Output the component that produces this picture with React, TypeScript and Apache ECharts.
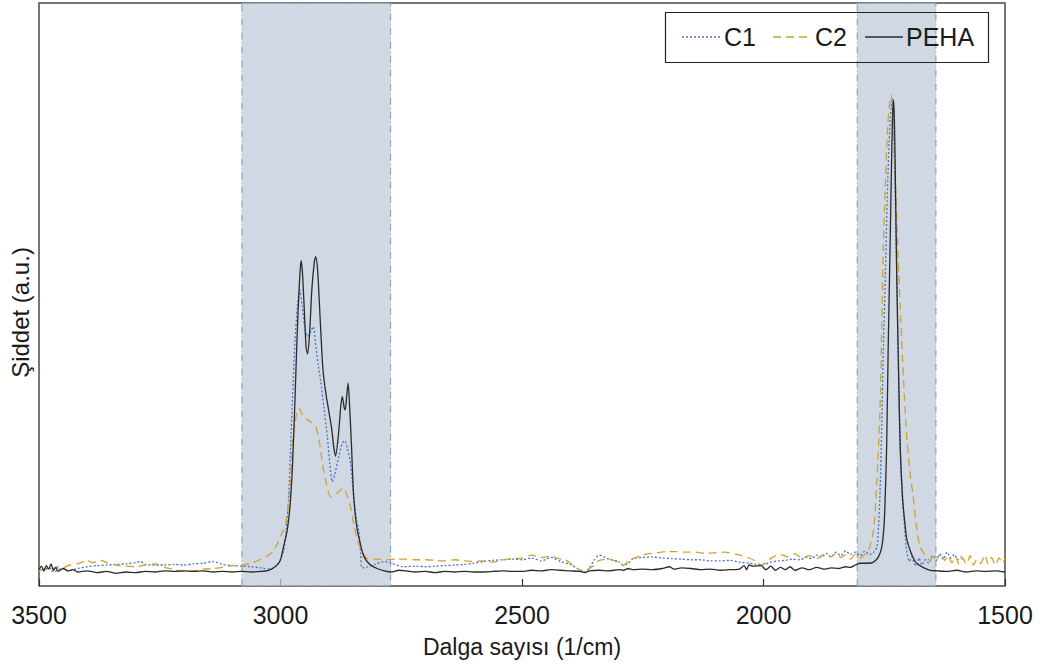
import React, { useEffect, useRef } from "react";
import * as echarts from "echarts";

const seriesNames = ["C1", "C2", "PEHA"];
const seriesColors = ["#4a73c2", "#d0a230", "#2b2b2b"];
const seriesDashes: (number[] | null)[] = [[2, 2], [8, 5], null];
const xTicks = [3500, 3000, 2500, 2000, 1500];
const shadedBands: [number, number][] = [
  [3080, 2772],
  [1806, 1643],
];

// [wavenumber (1/cm), intensity (a.u.)]
const pehaData: [number, number][] = [
  [3500, 2.8], [3495, 3.4], [3490, 2.6], [3485, 3.5], [3480, 2.9], [3475, 3.8], [3470, 2.7], [3465, 3.2], [3460, 2.5],
  [3450, 3.0], [3440, 2.6], [3430, 2.8], [3420, 2.4], [3400, 2.6], [3380, 2.3], [3360, 2.5], [3340, 2.2], [3320, 2.4],
  [3300, 2.3], [3280, 2.5], [3260, 2.4], [3240, 2.6], [3220, 2.5], [3200, 2.6], [3180, 2.5], [3160, 2.6], [3140, 2.4],
  [3120, 2.5], [3100, 2.4], [3080, 2.5], [3060, 2.4], [3040, 2.5], [3025, 2.7], [3015, 3.1], [3005, 3.8], [3000, 4.5],
  [2993, 7.0], [2986, 9.6], [2980, 14], [2975, 21], [2970, 32], [2966, 42], [2962, 50], [2959, 54.5], [2957, 55.8],
  [2954, 53], [2950, 46], [2947, 41], [2944, 39.8], [2940, 43], [2935, 51], [2930, 55.5], [2927, 56.5], [2923, 54],
  [2918, 46], [2912, 37], [2906, 33], [2900, 30], [2894, 27], [2890, 24], [2886, 22.3], [2880, 26], [2875, 31],
  [2872, 32.5], [2868, 30.5], [2866, 30.2], [2863, 32.5], [2860, 34.8], [2857, 31], [2853, 24], [2849, 16], [2845, 12],
  [2841, 9.6], [2834, 7], [2827, 5], [2815, 3.7], [2800, 3.0], [2785, 2.6], [2770, 2.4], [2755, 2.7], [2740, 2.6],
  [2720, 2.4], [2700, 2.5], [2680, 2.3], [2660, 2.5], [2640, 2.4], [2620, 2.5], [2600, 2.4], [2580, 2.4], [2560, 2.5],
  [2540, 2.6], [2520, 2.5], [2500, 2.5], [2480, 2.7], [2460, 2.6], [2440, 2.8], [2420, 2.7], [2400, 2.6], [2380, 2.5],
  [2370, 2.3], [2360, 2.6], [2340, 2.7], [2320, 2.6], [2300, 2.8], [2290, 2.7], [2280, 3.0], [2270, 2.8], [2250, 2.9],
  [2230, 2.8], [2210, 3.0], [2195, 3.3], [2185, 2.9], [2170, 3.1], [2150, 3.0], [2130, 2.8], [2110, 2.9], [2090, 2.7],
  [2070, 2.8], [2050, 2.9], [2040, 3.5], [2035, 2.8], [2030, 3.6], [2020, 3.4], [2005, 3.5], [1995, 2.8], [1985, 3.4],
  [1975, 2.7], [1965, 3.2], [1955, 2.8], [1945, 3.3], [1935, 2.7], [1920, 3.1], [1905, 2.8], [1890, 3.2], [1875, 2.9],
  [1860, 3.1], [1845, 3.0], [1830, 3.3], [1820, 3.2], [1810, 3.6], [1800, 3.9], [1785, 3.9], [1772, 4.1], [1762, 5],
  [1755, 6.7], [1750, 11], [1747, 18], [1745, 24], [1742, 40], [1738, 58], [1735, 72], [1733, 80], [1731, 83.4],
  [1729, 80], [1727, 70], [1724, 52.5], [1720, 35], [1717, 23.9], [1712, 15], [1707, 10.5], [1703, 7.9], [1695, 5.8],
  [1688, 4.5], [1683, 3.9], [1670, 3.2], [1655, 2.7], [1640, 2.6], [1620, 2.5], [1600, 2.7], [1580, 2.4], [1560, 2.6],
  [1540, 2.5], [1520, 2.6], [1500, 2.4],
];

const c1Data: [number, number][] = [
  [3500, 3.0], [3490, 2.6], [3480, 3.2], [3470, 2.4], [3460, 2.8], [3450, 3.0], [3440, 2.6], [3420, 3.0], [3400, 3.3],
  [3380, 3.5], [3360, 3.6], [3340, 3.7], [3320, 3.8], [3300, 4.0], [3290, 4.2], [3280, 3.7], [3260, 3.6], [3240, 3.6],
  [3220, 3.7], [3200, 3.6], [3180, 3.8], [3160, 3.9], [3140, 4.2], [3130, 4.0], [3120, 3.7], [3100, 3.5], [3080, 3.4],
  [3060, 3.3], [3040, 3.1], [3020, 2.9], [3005, 3.8], [2993, 6.2], [2988, 10], [2983, 15.3], [2979, 24], [2975, 32.5],
  [2970, 42], [2965, 48], [2960, 50.8], [2955, 48], [2950, 44.5], [2944, 42.8], [2938, 43.5], [2932, 44.5], [2928, 42],
  [2922, 38], [2917, 35.3], [2910, 30.5], [2903, 25.6], [2898, 21], [2893, 17.9], [2888, 19], [2880, 22], [2872, 24.5],
  [2867, 24.9], [2861, 23.5], [2855, 21], [2848, 15], [2842, 11], [2838, 9.6], [2834, 5.5], [2831, 3.1], [2820, 3.3],
  [2805, 3.7], [2786, 4.2], [2770, 3.9], [2745, 3.3], [2720, 3.4], [2700, 3.3], [2680, 3.4], [2660, 3.5], [2640, 3.6],
  [2620, 3.7], [2600, 3.9], [2580, 4.2], [2560, 4.4], [2540, 4.5], [2520, 4.6], [2500, 4.5], [2480, 4.8], [2460, 4.3],
  [2440, 4.9], [2420, 4.2], [2400, 3.7], [2385, 3.0], [2370, 2.4], [2360, 3.2], [2350, 4.5], [2340, 5.3], [2330, 5.0],
  [2320, 4.6], [2300, 4.2], [2290, 3.6], [2280, 3.9], [2270, 4.7], [2250, 4.9], [2230, 5.0], [2210, 4.8], [2190, 4.7],
  [2170, 4.6], [2150, 4.5], [2130, 4.5], [2110, 4.3], [2090, 4.3], [2070, 4.4], [2050, 4.1], [2030, 3.9], [2015, 3.7],
  [2005, 3.6], [1995, 3.8], [1985, 4.1], [1970, 4.3], [1955, 4.4], [1940, 4.6], [1925, 4.5], [1910, 4.9], [1900, 4.7],
  [1890, 5.3], [1880, 4.9], [1870, 5.6], [1860, 5.0], [1850, 5.8], [1840, 5.2], [1830, 6.0], [1820, 5.4], [1810, 5.8],
  [1800, 5.2], [1790, 6.0], [1780, 5.4], [1772, 5.8], [1765, 6.7], [1762, 10], [1759, 15.3], [1755, 28], [1752, 40],
  [1748, 52.5], [1744, 66], [1740, 76], [1736, 82], [1734, 83.6], [1731, 80], [1728, 70], [1724, 52.5], [1720, 36],
  [1717, 23.9], [1713, 16], [1710, 12.5], [1706, 8], [1703, 5.6], [1698, 4.2], [1693, 5.0], [1688, 3.8], [1683, 3.5],
  [1678, 4.8], [1672, 3.6], [1665, 4.5], [1658, 3.9], [1650, 5.2], [1642, 4.4], [1635, 5.5], [1628, 4.6], [1620, 5.8],
  [1612, 4.8], [1605, 5.4], [1598, 4.5], [1590, 5.0], [1585, 4.6],
];

const c2Data: [number, number][] = [
  [3500, 2.6], [3490, 2.9], [3480, 2.7], [3470, 3.0], [3460, 3.3], [3450, 3.1], [3440, 3.5], [3420, 3.8], [3400, 4.4],
  [3390, 4.0], [3380, 4.2], [3372, 4.4], [3360, 4.0], [3340, 3.6], [3320, 3.4], [3300, 3.3], [3280, 3.6], [3260, 3.8],
  [3240, 3.2], [3220, 2.8], [3200, 2.5], [3180, 2.6], [3160, 2.9], [3140, 3.0], [3120, 3.2], [3100, 3.5], [3080, 3.6],
  [3061, 3.9], [3040, 4.6], [3025, 5.3], [3013, 6.2], [3000, 8.5], [2989, 10.8], [2980, 17], [2975, 24.5], [2970, 28],
  [2965, 30], [2962, 30.5], [2955, 29.5], [2944, 28.5], [2935, 28], [2927, 27.3], [2920, 25], [2913, 21], [2905, 17.5],
  [2896, 15.3], [2885, 15.8], [2875, 16.5], [2869, 16.8], [2862, 15.5], [2855, 13.6], [2848, 10.5], [2841, 7.9],
  [2830, 5.8], [2820, 4.7], [2800, 4.6], [2780, 4.5], [2760, 4.6], [2740, 4.6], [2720, 4.5], [2700, 4.5], [2680, 4.4],
  [2660, 4.3], [2640, 4.5], [2620, 4.3], [2600, 4.2], [2580, 4.3], [2560, 4.1], [2540, 4.5], [2520, 4.7], [2500, 4.8],
  [2480, 5.3], [2460, 4.9], [2440, 5.1], [2420, 4.6], [2410, 4.5], [2400, 3.9], [2385, 3.0], [2370, 2.3], [2360, 3.0],
  [2350, 3.6], [2340, 4.4], [2320, 4.6], [2300, 4.0], [2290, 3.5], [2280, 4.3], [2270, 4.7], [2255, 5.2], [2240, 5.5],
  [2220, 5.7], [2200, 5.9], [2180, 5.9], [2160, 5.8], [2140, 5.8], [2120, 5.6], [2100, 5.7], [2080, 5.8], [2060, 5.5],
  [2045, 5.2], [2030, 4.8], [2015, 4.2], [2005, 3.6], [1995, 4.0], [1980, 5.0], [1965, 5.4], [1950, 5.0], [1935, 5.5],
  [1920, 4.8], [1905, 5.2], [1890, 4.7], [1875, 5.4], [1860, 5.0], [1850, 5.6], [1840, 4.9], [1830, 5.3], [1820, 4.6],
  [1810, 5.4], [1800, 4.8], [1792, 5.3], [1786, 5.6], [1779, 7], [1772, 9.6], [1766, 17], [1759, 29.6], [1755, 45],
  [1752, 58], [1748, 68], [1744, 77], [1740, 82], [1736, 84.2], [1732, 80], [1727, 69.6], [1722, 58], [1716, 46],
  [1710, 35.3], [1703, 25], [1696, 19], [1690, 15.3], [1683, 10], [1676, 6.7], [1668, 5.6], [1662, 5.0], [1655, 4.3],
  [1648, 5.5], [1640, 4.8], [1632, 5.6], [1625, 4.4], [1618, 5.2], [1610, 4.0], [1602, 5.0], [1595, 3.7], [1588, 4.8],
  [1580, 3.8], [1572, 5.2], [1565, 3.6], [1558, 4.6], [1550, 3.9], [1542, 5.3], [1535, 3.8], [1528, 4.9], [1520, 3.6],
  [1512, 4.8], [1505, 3.9], [1500, 4.7],
];

export default function App() {
  const ref = useRef<HTMLDivElement>(null);

  useEffect(() => {
    if (!ref.current) return;
    const chart = echarts.init(ref.current, undefined, { renderer: "svg" });
    const font = "'Liberation Sans', Arial, sans-serif";

    // legend drawn as graphic elements (line samples keep dash styles)
    const legendSampleX = [682, 773, 865];
    const legendTextX = [724, 815, 906];
    const legendY = 37;
    const legendElements: any[] = [
      {
        type: "rect",
        z: 100,
        shape: { x: 665.5, y: 12.5, width: 323, height: 50 },
        style: { fill: "none", stroke: "#222", lineWidth: 1.2 },
      },
    ];
    seriesNames.forEach((name, i) => {
      legendElements.push({
        type: "line",
        z: 100,
        shape: { x1: legendSampleX[i], y1: legendY, x2: legendSampleX[i] + 38, y2: legendY },
        style: {
          stroke: seriesColors[i],
          lineWidth: 1.3,
          lineDash: seriesDashes[i] || undefined,
        },
      });
      legendElements.push({
        type: "text",
        z: 100,
        x: legendTextX[i],
        y: legendY,
        style: {
          text: name,
          font: `25px ${font}`,
          fill: "#1a1a1a",
          verticalAlign: "middle",
        },
      });
    });

    const seriesData = [c1Data, c2Data, pehaData];

    chart.setOption({
      animation: false,
      backgroundColor: "#ffffff",
      textStyle: { fontFamily: font },
      grid: {
        left: 38,
        right: 38,
        top: 3,
        bottom: 86,
        show: true,
        borderColor: "#4a4a4a",
        borderWidth: 1.5,
        backgroundColor: "transparent",
      },
      graphic: legendElements,
      xAxis: {
        type: "value",
        min: 1500,
        max: 3500,
        interval: 500,
        inverse: true,
        name: "Dalga sayısı (1/cm)",
        nameLocation: "middle",
        nameGap: 49,
        nameTextStyle: { fontSize: 23, color: "#1a1a1a" },
        axisLine: { show: false },
        axisTick: { show: true, inside: true, length: 7, lineStyle: { color: "#333", width: 1.2 } },
        axisLabel: {
          fontSize: 25,
          color: "#1a1a1a",
          margin: 16,
          formatter: (v: number) => (xTicks.includes(v) ? String(v) : ""),
        },
        splitLine: { show: false },
      },
      yAxis: {
        type: "value",
        min: 0,
        max: 100,
        name: "Şiddet (a.u.)",
        nameLocation: "middle",
        nameGap: 7,
        nameTextStyle: { fontSize: 24, color: "#1a1a1a", padding: [0, 0, 0, -36] },
        axisLine: { show: false },
        axisTick: { show: false },
        axisLabel: { show: false },
        splitLine: { show: false },
      },
      series: seriesNames.map((name, i) => ({
        name,
        type: "line",
        data: seriesData[i],
        showSymbol: false,
        symbol: "none",
        smooth: 0.25,
        z: 3 + i,
        lineStyle: { color: seriesColors[i], width: 1.3, type: seriesDashes[i] || "solid" },
        itemStyle: { color: seriesColors[i] },
        ...(i === 0
          ? {
              markArea: {
                silent: true,
                itemStyle: {
                  color: "rgba(190, 201, 216, 0.72)",
                  borderColor: "#8397b3",
                  borderWidth: 1,
                  borderType: [7, 3, 1, 3],
                },
                data: shadedBands.map(([a, b]) => [{ xAxis: a }, { xAxis: b }]),
              },
            }
          : {}),
      })),
    });
    return () => chart.dispose();
  }, []);

  return (
    <div
      ref={ref}
      style={{ position: "fixed", left: 0, top: 0, width: 1043, height: 672, background: "#fff" }}
    />
  );
}
